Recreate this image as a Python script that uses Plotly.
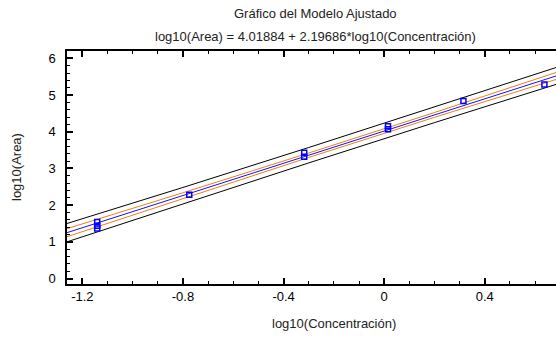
import plotly.graph_objects as go

# Observed data (log10 concentration, log10 area)
obs_x = [-1.141, -1.141, -1.141, -0.775, -0.318, -0.318, 0.015, 0.015, 0.315, 0.637]
obs_y = [1.54, 1.44, 1.36, 2.28, 3.43, 3.32, 4.15, 4.07, 4.84, 5.29]

# Fitted model coefficients (from the chart title)
intercept = 4.01884
slope = 2.19686

# Band positions
band_x = [-1.261, -0.8, -0.3, 0.2, 0.683]
fit_y = [1.249, 2.261, 3.360, 4.458, 5.519]
conf_hi = [1.359, 2.336, 3.420, 4.523, 5.614]
conf_lo = [1.139, 2.186, 3.300, 4.393, 5.424]
pred_hi = [1.499, 2.481, 3.570, 4.668, 5.749]
pred_lo = [0.999, 2.041, 3.150, 4.248, 5.289]

x_range = [-1.261, 0.683]
y_range = [-0.15, 6.2]
x_ticks = [-1.2, -0.8, -0.4, 0, 0.4]
x_ticktext = ["-1.2", "-0.8", "-0.4", "0", "0.4"]
y_ticks = [0, 1, 2, 3, 4, 5, 6]

FONT = "Liberation Sans, Arial, sans-serif"

fig = go.Figure()
for ys in (pred_hi, pred_lo):
    fig.add_trace(go.Scatter(x=band_x, y=ys, mode="lines", line=dict(color="black", width=1),
                             hoverinfo="skip", showlegend=False))
for ys in (conf_hi, conf_lo):
    fig.add_trace(go.Scatter(x=band_x, y=ys, mode="lines", line=dict(color="#f07f10", width=1),
                             hoverinfo="skip", showlegend=False))
fig.add_trace(go.Scatter(x=band_x, y=fit_y, mode="lines", line=dict(color="#1010ff", width=1),
                         showlegend=False))
fig.add_trace(go.Scatter(x=obs_x, y=obs_y, mode="markers",
                         marker=dict(symbol="square-open", size=5, color="#0000ff",
                                     line=dict(width=1.5, color="#0000ff")),
                         showlegend=False))

L, T, B = 67, 51, 54
W, H = 556, 338
pw = W - L
ph = H - T - B

def px_x(p):
    return (p - L) / pw

def px_y(p):
    return (H - B - p) / ph

fig.update_layout(
    width=W, height=H,
    margin=dict(l=L, r=0, t=T, b=B),
    paper_bgcolor="white", plot_bgcolor="white",
    font=dict(family=FONT, size=13, color="black"),
    xaxis=dict(range=x_range, tickmode="array", tickvals=x_ticks, ticktext=x_ticktext,
               ticks="inside", ticklen=6, tickwidth=1.5, tickcolor="black",
               showline=True, linecolor="black", linewidth=1.5, mirror="allticks",
               showgrid=False, zeroline=False,
               minor=dict(dtick=0.1, tick0=0, ticks="inside", ticklen=3, tickwidth=1,
                          tickcolor="black", showgrid=False),
               tickfont=dict(size=13)),
    yaxis=dict(range=y_range, tickmode="array", tickvals=y_ticks,
               ticks="inside", ticklen=6, tickwidth=1.5, tickcolor="black",
               showline=True, linecolor="black", linewidth=1.5, mirror=False,
               showgrid=False, zeroline=False, ticklabelstandoff=7,
               minor=dict(dtick=0.2, tick0=0, ticks="inside", ticklen=3, tickwidth=1,
                          tickcolor="black", showgrid=False),
               tickfont=dict(size=13)),
    annotations=[
        dict(text="Gráfico del Modelo Ajustado", xref="paper", yref="paper",
             x=px_x(315), y=px_y(14), xanchor="center", yanchor="middle",
             showarrow=False, font=dict(size=13, color="#222")),
        dict(text="log10(Area) = 4.01884 + 2.19686*log10(Concentración)", xref="paper", yref="paper",
             x=px_x(315), y=px_y(36), xanchor="center", yanchor="middle",
             showarrow=False, font=dict(size=13, color="#222")),
        dict(text="log10(Concentración)", xref="paper", yref="paper",
             x=px_x(334), y=px_y(323), xanchor="center", yanchor="middle",
             showarrow=False, font=dict(size=13, color="#222")),
        dict(text="log10(Area)", xref="paper", yref="paper", textangle=-90,
             x=px_x(16), y=px_y(167), xanchor="center", yanchor="middle",
             showarrow=False, font=dict(size=13, color="#222")),
    ],
)

fig.write_html("out.html")
